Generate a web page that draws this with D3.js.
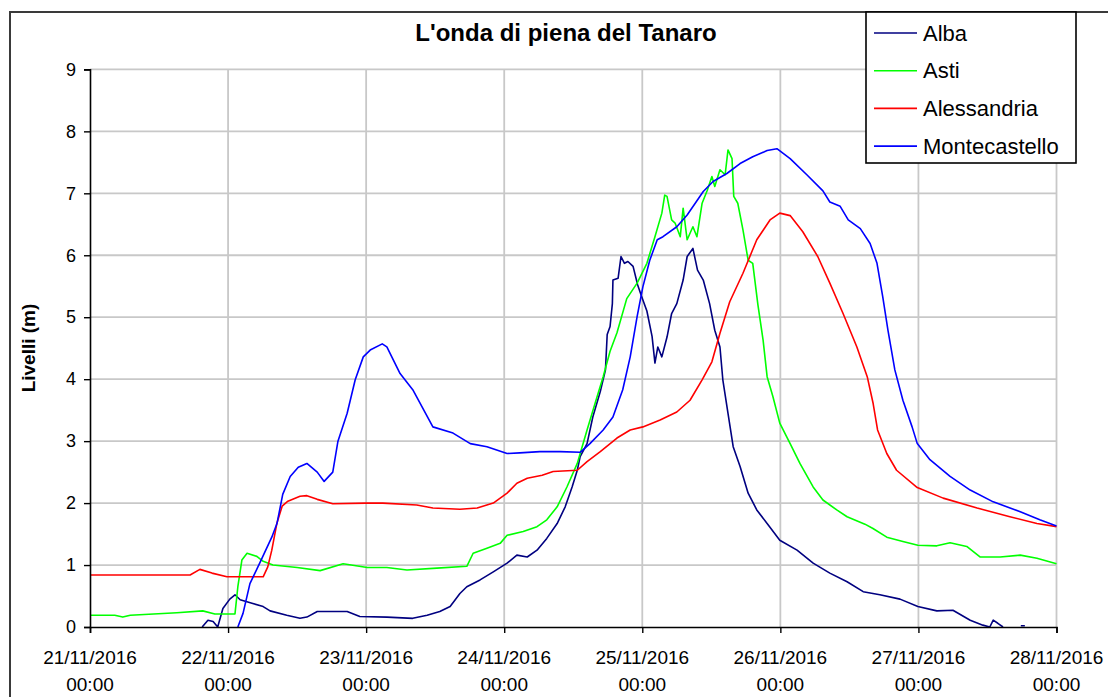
<!DOCTYPE html>
<html>
<head>
<meta charset="utf-8">
<script src="https://cdn.jsdelivr.net/npm/d3@7"></script>
<style>
  body { margin: 0; background: #fff; }
  svg { display: block; }
  text { font-family: "Liberation Sans", Arial, sans-serif; fill: #000; }
</style>
</head>
<body>
<svg id="chart" width="1108" height="697"></svg>
<script>
// ---- data -------------------------------------------------------------
const chartTitle = "L'onda di piena del Tanaro";
const yTitle = "Livelli (m)";
const stationNames = ["Alba", "Asti", "Alessandria", "Montecastello"];
const yTickValues = [0, 1, 2, 3, 4, 5, 6, 7, 8, 9];
const periodStart = Date.UTC(2016, 10, 21, 0, 0);
const periodEnd = Date.UTC(2016, 10, 28, 0, 0);

// [hours since 21/11/2016 00:00, water level in m]
const alba = [
  [19.5,0],[20.5,0.11],[21.4,0.09],[22.2,0],[23.1,0.30],[24.3,0.45],[25.2,0.52],[26.1,0.44],
  [28.3,0.38],[30.1,0.33],[31.3,0.26],[34.2,0.19],[36.5,0.14],[37.7,0.16],[39.5,0.25],[42.2,0.25],
  [44.7,0.25],[46.9,0.17],[51.6,0.16],[56.1,0.14],[58.6,0.19],[60.8,0.25],[62.6,0.33],[64.3,0.54],
  [65.5,0.65],[67.8,0.76],[70.1,0.89],[72.5,1.03],[74.2,1.16],[76.0,1.13],[77.7,1.24],[79.4,1.43],
  [81.2,1.67],[82.6,1.94],[83.8,2.26],[84.7,2.53],[85.2,2.75],[86.4,2.96],[87.4,3.39],[88.7,3.80],
  [89.6,4.15],[89.9,4.72],[90.4,4.85],[90.8,5.22],[90.9,5.60],[91.8,5.63],[92.3,5.98],[92.9,5.87],
  [93.5,5.90],[94.4,5.82],[95.2,5.52],[95.9,5.33],[96.8,5.10],[97.7,4.69],[98.2,4.26],[98.7,4.52],
  [99.4,4.36],[100.3,4.68],[101.1,5.06],[102.0,5.22],[103.1,5.60],[103.8,5.98],[104.8,6.11],[105.6,5.76],
  [106.6,5.60],[107.7,5.22],[108.6,4.79],[109.5,4.52],[110.0,3.99],[110.9,3.45],[111.8,2.91],[113.0,2.59],
  [114.4,2.16],[115.9,1.89],[117.7,1.67],[119.9,1.40],[122.9,1.24],[125.7,1.03],[128.6,0.87],[131.6,0.73],
  [134.4,0.57],[137.3,0.52],[140.8,0.45],[143.9,0.33],[147.2,0.26],[150.0,0.27],[153.0,0.11],[155.2,0.03],
  [156.4,0],[157.0,0.11],[157.8,0.06],[158.7,0],[160.5,null],[161.8,0.02],[162.5,0.02]
];

const asti = [
  [0,0.19],[4.3,0.19],[5.7,0.16],[7.0,0.19],[15.1,0.23],[19.6,0.26],[21.7,0.21],[25.2,0.21],
  [25.7,0.65],[26.4,1.08],[27.3,1.19],[29.0,1.14],[30.1,1.06],[31.8,1.00],[36.0,0.96],[40.0,0.91],
  [44.0,1.02],[48.2,0.96],[51.6,0.96],[55.1,0.92],[60.3,0.95],[65.5,0.98],[66.6,1.19],[69.0,1.27],
  [71.3,1.35],[72.5,1.48],[75.3,1.54],[77.7,1.62],[79.4,1.73],[81.2,1.94],[82.9,2.26],[84.7,2.64],
  [86.4,3.18],[87.8,3.61],[89.2,4.04],[90.4,4.45],[91.6,4.75],[93.3,5.30],[95.1,5.55],[96.8,5.87],
  [98.2,6.30],[99.4,6.68],[99.9,6.97],[100.3,6.95],[101.1,6.57],[101.7,6.52],[102.6,6.30],[103.1,6.76],
  [103.8,6.25],[104.8,6.46],[105.5,6.30],[106.4,6.84],[107.3,7.05],[108.1,7.27],[108.6,7.11],[109.5,7.38],
  [110.4,7.30],[110.9,7.70],[111.6,7.56],[111.9,6.95],[112.6,6.84],[113.5,6.41],[114.4,5.92],[115.2,5.87],
  [116.1,5.20],[117.0,4.63],[117.7,4.04],[118.7,3.72],[119.9,3.29],[121.7,2.96],[123.4,2.64],[125.7,2.26],
  [127.4,2.05],[129.8,1.89],[131.6,1.78],[134.7,1.66],[136.1,1.59],[138.5,1.45],[141.3,1.38],[143.9,1.32],
  [147.2,1.31],[149.5,1.36],[152.4,1.30],[154.7,1.13],[158.2,1.13],[161.7,1.16],[164.6,1.11],[168.0,1.02]
];

const alessandria = [
  [0,0.84],[17.4,0.84],[19.1,0.93],[21.2,0.87],[23.8,0.81],[30.1,0.81],[30.9,0.97],[31.6,1.24],
  [32.5,1.68],[33.4,1.95],[34.4,2.03],[36.5,2.11],[37.7,2.12],[39.5,2.06],[42.2,1.99],[48.0,2.00],
  [50.9,2.00],[56.8,1.97],[59.6,1.92],[64.3,1.90],[67.3,1.92],[70.1,2.00],[72.5,2.16],[74.2,2.32],
  [76.0,2.40],[78.6,2.45],[80.5,2.51],[84.7,2.53],[86.4,2.67],[88.7,2.83],[91.6,3.05],[93.9,3.18],
  [96.1,3.23],[99.1,3.34],[102.0,3.47],[104.3,3.66],[106.4,3.99],[108.1,4.28],[109.5,4.74],[111.2,5.25],
  [113.5,5.71],[115.9,6.25],[118.2,6.57],[119.9,6.68],[121.7,6.64],[123.9,6.38],[126.5,5.98],[128.6,5.55],
  [130.9,5.06],[133.3,4.52],[135.1,4.04],[136.1,3.62],[136.9,3.18],[138.5,2.80],[140.2,2.53],[143.8,2.25],
  [148.3,2.08],[154.2,1.92],[159.9,1.78],[164.6,1.67],[168.0,1.62]
];

const montecastello = [
  [25.7,0],[26.6,0.22],[27.8,0.70],[29.6,1.05],[31.6,1.45],[32.5,1.67],[33.5,2.14],[34.8,2.43],
  [36.2,2.58],[37.7,2.64],[39.5,2.50],[40.7,2.35],[42.2,2.50],[43.1,3.00],[44.7,3.45],[46.1,3.99],
  [47.5,4.36],[48.7,4.47],[50.8,4.57],[51.6,4.52],[53.9,4.09],[56.1,3.83],[59.6,3.23],[63.1,3.13],
  [66.1,2.96],[69.0,2.91],[72.5,2.80],[74.7,2.81],[78.2,2.83],[81.7,2.83],[85.2,2.82],[86.9,2.96],
  [89.2,3.18],[90.9,3.39],[92.6,3.83],[93.9,4.36],[95.1,5.01],[96.1,5.49],[97.3,5.92],[98.6,6.25],
  [99.6,6.30],[102.0,6.46],[103.8,6.65],[106.6,7.03],[108.3,7.19],[110.7,7.32],[113.0,7.48],[115.2,7.59],
  [117.7,7.69],[119.4,7.72],[121.7,7.56],[124.6,7.30],[127.4,7.04],[128.6,6.86],[130.4,6.79],[131.8,6.57],
  [133.9,6.43],[135.6,6.19],[136.8,5.87],[137.8,5.33],[138.7,4.79],[139.9,4.15],[141.3,3.66],[142.9,3.23],
  [143.8,2.96],[146.0,2.70],[149.5,2.43],[153.0,2.21],[157.0,2.02],[161.7,1.86],[165.1,1.73],[168.0,1.63]
];

const stationSeries = [alba, asti, alessandria, montecastello];
const stationColors = ["#000080", "#00ff00", "#ff0000", "#0000ff"];

// ---- layout -----------------------------------------------------------
const svg = d3.select("#chart");
const plot = { left: 90, right: 1056.5, top: 69.4, bottom: 627 };

const x = d3.scaleUtc()
  .domain([new Date(periodStart), new Date(periodEnd)])
  .range([plot.left, plot.right]);
const y = d3.scaleLinear().domain([0, 9]).range([plot.bottom, plot.top]);
const dayTicks = d3.utcDay.range(new Date(periodStart), new Date(periodEnd + 1));
const hourToDate = h => new Date(periodStart + h * 3600e3);

// outer frame of the chart
svg.append("rect")
  .attr("x", 10).attr("y", 12).attr("width", 1120).attr("height", 720)
  .attr("fill", "#fff").attr("stroke", "#3a3a3a").attr("stroke-width", 2);

// title
svg.append("text")
  .attr("x", 566).attr("y", 41)
  .attr("text-anchor", "middle")
  .style("font-size", "24px").style("font-weight", "bold")
  .text(chartTitle);

// gridlines
const grid = svg.append("g").attr("stroke", "#c8c8c8").attr("stroke-width", 1.8);
grid.selectAll(".hg").data(yTickValues.filter(v => v > 0)).join("line")
  .attr("x1", plot.left).attr("x2", plot.right)
  .attr("y1", d => y(d)).attr("y2", d => y(d));
grid.selectAll(".vg").data(dayTicks.slice(1)).join("line")
  .attr("x1", d => x(d)).attr("x2", d => x(d))
  .attr("y1", plot.top).attr("y2", plot.bottom);

// series
svg.append("clipPath").attr("id", "plotClip").append("rect")
  .attr("x", plot.left).attr("y", plot.top - 2)
  .attr("width", plot.right - plot.left + 1).attr("height", plot.bottom - plot.top + 2);

const line = d3.line()
  .defined(d => d[1] !== null)
  .x(d => x(hourToDate(d[0])))
  .y(d => y(d[1]));

svg.append("g").attr("clip-path", "url(#plotClip)")
  .selectAll("path").data(stationSeries).join("path")
  .attr("d", d => line(d))
  .attr("fill", "none")
  .attr("stroke", (d, i) => stationColors[i])
  .attr("stroke-width", 1.6)
  .attr("stroke-linejoin", "round");

// y axis
const yAxis = svg.append("g")
  .attr("transform", `translate(${plot.left},0)`)
  .call(d3.axisLeft(y).tickValues(yTickValues).tickSize(6).tickPadding(8).tickFormat(d3.format("d")));
yAxis.select(".domain").attr("stroke", "#000").attr("stroke-width", 1.6);
yAxis.selectAll(".tick line").attr("stroke", "#000").attr("stroke-width", 1.4);
yAxis.selectAll(".tick text")
  .style("font-size", "18px").style("font-family", "'Liberation Sans', Arial, sans-serif")
  .attr("fill", "#000");

// x axis with two-line date labels
const xAxis = svg.append("g")
  .attr("transform", `translate(0,${plot.bottom})`)
  .call(d3.axisBottom(x).tickValues(dayTicks).tickSize(6).tickFormat(""));
xAxis.select(".domain").attr("stroke", "#000").attr("stroke-width", 1.6);
xAxis.selectAll(".tick line").attr("stroke", "#000").attr("stroke-width", 1.4);
const fmtDay = d3.utcFormat("%d/%m/%Y");
const fmtTime = d3.utcFormat("%H:%M");
const xLabels = svg.append("g").selectAll("text").data(dayTicks).join("text")
  .attr("text-anchor", "middle")
  .style("font-size", "19px");
xLabels.append("tspan").attr("x", d => x(d)).attr("y", 664).text(d => fmtDay(d));
xLabels.append("tspan").attr("x", d => x(d)).attr("y", 691).text(d => fmtTime(d));

// y axis title
svg.append("text")
  .attr("transform", "translate(35,348) rotate(-90)")
  .attr("text-anchor", "middle")
  .style("font-size", "19px").style("font-weight", "bold")
  .text(yTitle);

// legend
const legend = svg.append("g");
legend.append("rect")
  .attr("x", 866).attr("y", 12).attr("width", 210).attr("height", 151)
  .attr("fill", "#fff").attr("stroke", "#000").attr("stroke-width", 1.6);
const rows = legend.selectAll(".row").data(stationNames).join("g")
  .attr("transform", (d, i) => `translate(0,${33 + i * 37.7})`);
rows.append("line")
  .attr("x1", 874).attr("x2", 917).attr("y1", 0).attr("y2", 0)
  .attr("stroke", (d, i) => stationColors[i]).attr("stroke-width", 1.6);
rows.append("text")
  .attr("x", 923).attr("y", 0).attr("dy", "0.35em")
  .style("font-size", "22px")
  .text(d => d);
</script>
</body>
</html>
